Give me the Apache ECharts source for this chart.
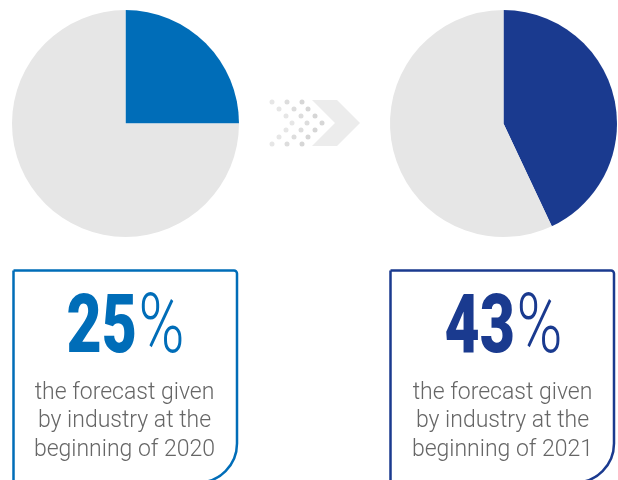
<!DOCTYPE html>
<html>
<head>
<meta charset="utf-8">
<script src="https://cdn.jsdelivr.net/npm/echarts@6/dist/echarts.min.js"></script>
<style>
  html, body { margin: 0; padding: 0; background: #ffffff; }
  #chart { width: 618px; height: 480px; }
</style>
</head>
<body>
<div id="chart"></div>
<script>
// Forecast shares given by industry, by year
const years = ['2020', '2021'];
const forecastShare = [25, 43];
const accentColors = ['#006db8', '#1a3a8f'];
const restColor = '#e6e6e6';
const captionLines = ['the forecast given', 'by industry at the', 'beginning of '];

const chart = echarts.init(document.getElementById('chart'), null, { renderer: 'canvas' });

const centersX = [125.5, 503.5];
const centerY = 123.5;
const radius = 113.5;

const series = years.map((year, i) => ({
  type: 'pie',
  name: year,
  center: [centersX[i], centerY],
  radius: [0, radius],
  startAngle: 90,
  clockwise: true,
  silent: true,
  animation: false,
  label: { show: false },
  labelLine: { show: false },
  itemStyle: { borderWidth: 0 },
  data: [
    { name: 'forecast', value: forecastShare[i], itemStyle: { color: accentColors[i] } },
    { name: 'rest', value: 100 - forecastShare[i], itemStyle: { color: restColor } }
  ]
}));

// Dotted chevron between the two pies
const dotRows = [
  [272, 287, 302],
  [279, 294, 308],
  [286, 301, 315],
  [292, 307, 322],
  [286, 301, 315],
  [279, 294, 308],
  [272, 287, 302]
];
const dotColors = ['#e6e6e6', '#dddddd', '#d6d6d6'];
const graphics = [];
graphics.push({
  type: 'polygon',
  silent: true,
  shape: { points: [[312, 100], [337, 100], [360, 123], [337, 146], [312, 146], [335, 123]] },
  style: { fill: '#ececec' }
});
dotRows.forEach((row, r) => {
  row.forEach((cx, c) => {
    graphics.push({
      type: 'circle',
      silent: true,
      shape: { cx: cx, cy: 102 + r * 7, r: 2.5 },
      style: { fill: dotColors[c] }
    });
  });
});

// Outlined caption boxes with percentage and description
const boxLeft = [13.5, 390.5];
const boxWidth = [223.5, 223.5];
years.forEach((year, i) => {
  graphics.push({
    type: 'rect',
    silent: true,
    shape: { x: boxLeft[i], y: 270.5, width: boxWidth[i], height: 212, r: [0, 3, 39, 0] },
    style: { fill: 'none', stroke: accentColors[i], lineWidth: 2.5 }
  });
  graphics.push({
    type: 'text',
    silent: true,
    x: centersX[i],
    y: 331,
    scaleX: 0.74,
    style: {
      text: '{n|' + forecastShare[i] + '}{p|%}',
      textAlign: 'center',
      textVerticalAlign: 'middle',
      rich: {
        n: { fontFamily: 'Roboto', fontWeight: 900, fontSize: 82, fill: accentColors[i], color: accentColors[i] },
        p: { fontFamily: 'Roboto', fontWeight: 300, fontSize: 84, fill: accentColors[i], color: accentColors[i], padding: [0, 0, 0, 2] }
      }
    }
  });
  const lines = captionLines.slice(0, 2).concat([captionLines[2] + year]);
  lines.forEach((line, k) => {
    graphics.push({
      type: 'text',
      silent: true,
      x: centersX[i] - 1,
      y: 393 + k * 28.5,
      style: {
        text: line,
        textAlign: 'center',
        textVerticalAlign: 'middle',
        fontFamily: 'Roboto',
        fontWeight: 300,
        fontSize: 23,
        fill: '#666666'
      }
    });
  });
});

chart.setOption({
  animation: false,
  backgroundColor: '#ffffff',
  series: series,
  graphic: { elements: graphics }
});
</script>
</body>
</html>
